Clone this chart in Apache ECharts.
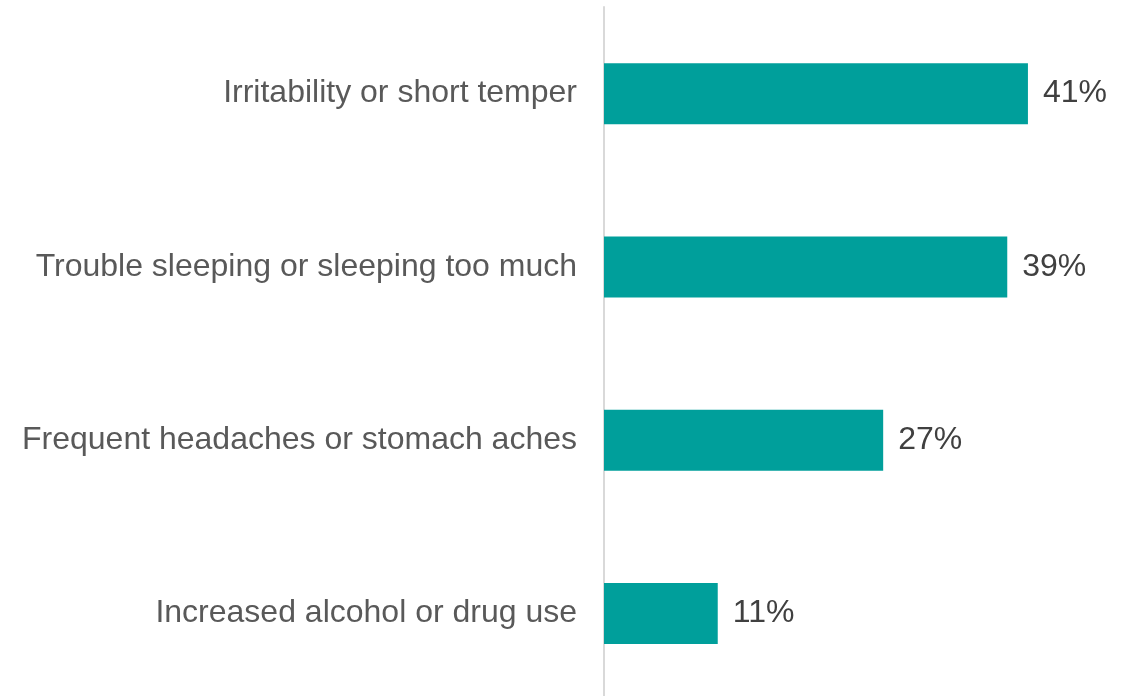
<!DOCTYPE html>
<html><head><meta charset="utf-8">
<script src="https://cdn.jsdelivr.net/npm/echarts@6/dist/echarts.min.js"></script>
<style>html,body{margin:0;padding:0;background:#fff;overflow:hidden}#c{width:1135px;height:700px}</style>
</head><body><div id="c"></div>
<script>
const categories = ["Irritability or short temper","Trouble sleeping or sleeping too much","Frequent headaches or stomach aches","Increased alcohol or drug use"];
const values = [41, 39, 27, 11];
const chart = echarts.init(document.getElementById('c'));
chart.setOption({
  animation: false,
  grid: {left: 604, top: 7, right: 14, bottom: 0, containLabel: false},
  xAxis: {type: 'value', min: 0, max: 50, show: false},
  yAxis: {type: 'category', data: categories, inverse: true,
    axisLine: {show: true, lineStyle: {color: '#d9d9d9', width: 2}},
    axisTick: {show: false},
    axisLabel: {margin: 27, fontFamily: 'Liberation Sans, Arial, sans-serif', fontSize: 32, color: '#595959'}},
  series: [{type: 'bar', data: values, barWidth: 61,
    itemStyle: {color: '#009F9B'},
    label: {show: true, position: 'right', distance: 15, formatter: '{c}%',
      fontFamily: 'Liberation Sans, Arial, sans-serif', fontSize: 32, color: '#404040'}}]
});
</script></body></html>
